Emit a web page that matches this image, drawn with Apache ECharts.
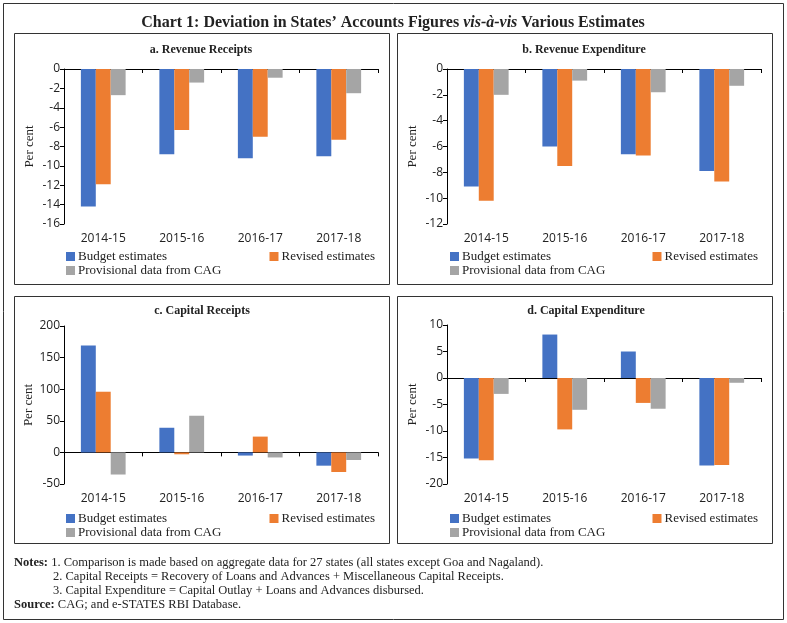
<!DOCTYPE html>
<html>
<head>
<meta charset="utf-8">
<script src="https://cdn.jsdelivr.net/npm/echarts@6/dist/echarts.min.js"></script>
<style>
html,body{margin:0;padding:0;background:#fff;}
#c{width:787px;height:623px;}
</style>
</head>
<body>
<div id="c"></div>
<script>
var categories = ['2014-15', '2015-16', '2016-17', '2017-18'];
var seriesNames = ['Budget estimates', 'Revised estimates', 'Provisional data from CAG'];
var colors = ['#4472C4', '#ED7D31', '#A5A5A5'];

var panelTitles = ['a. Revenue Receipts', 'b. Revenue Expenditure', 'c. Capital Receipts', 'd. Capital Expenditure'];

// a. Revenue Receipts
var revReceiptsBE = [-14.2, -8.8, -9.2, -9.0];
var revReceiptsRE = [-11.9, -6.3, -7.0, -7.3];
var revReceiptsCAG = [-2.7, -1.4, -0.9, -2.5];
// b. Revenue Expenditure
var revExpBE = [-9.1, -6.0, -6.6, -7.9];
var revExpRE = [-10.2, -7.5, -6.7, -8.7];
var revExpCAG = [-2.0, -0.9, -1.8, -1.3];
// c. Capital Receipts
var capReceiptsBE = [169, 39, -5, -21];
var capReceiptsRE = [96, -3, 25, -31];
var capReceiptsCAG = [-35, 58, -8, -12];
// d. Capital Expenditure
var capExpBE = [-15.2, 8.2, 5.0, -16.5];
var capExpRE = [-15.5, -9.7, -4.7, -16.4];
var capExpCAG = [-3.0, -6.0, -5.8, -0.9];

// y-axis ranges
var yMin = [-16, -12, -50, -20];
var yMax = [0, 0, 200, 10];
var yInterval = [2, 2, 50, 5];

var notesLines = [
  '1. Comparison is made based on aggregate data for 27 states (all states except Goa and Nagaland).',
  '2. Capital Receipts = Recovery of Loans and Advances + Miscellaneous Capital Receipts.',
  '3. Capital Expenditure = Capital Outlay + Loans and Advances disbursed.'
];
var sourceText = 'CAG; and e-STATES RBI Database.';

var panelData = [
  [revReceiptsBE, revReceiptsRE, revReceiptsCAG],
  [revExpBE, revExpRE, revExpCAG],
  [capReceiptsBE, capReceiptsRE, capReceiptsCAG],
  [capExpBE, capExpRE, capExpCAG]
];

var SERIF = '"Liberation Serif", "DejaVu Serif", serif';
var SANS = '"Open Sans", "Liberation Sans", sans-serif';

var grids = [
  {left: 64, right: 409, top: 69, height: 155},
  {left: 447, right: 26, top: 69, height: 155},
  {left: 64, right: 409, top: 326, height: 158},
  {left: 447, right: 26, top: 325, height: 159}
];
var panelBoxes = [
  {x: 14, y: 33, w: 375, h: 251},
  {x: 397, y: 33, w: 375, h: 251},
  {x: 14, y: 296, w: 375, h: 247},
  {x: 397, y: 296, w: 375, h: 247}
];
var titleCenters = [[201, 51], [584, 51], [202, 312], [586, 312]];
var legendRows = [[256, 270], [256, 270], [518, 532], [518, 532]];
var legendLeft = [66, 450, 66, 450];
var legendRight = [412, 29, 412, 29];

var xAxes = [], yAxes = [], series = [], titles = [], legends = [], graphics = [];

for (var i = 0; i < 4; i++) {
  xAxes.push({
    gridIndex: i, type: 'category', data: categories,
    axisLine: {onZero: true, lineStyle: {color: '#000', width: 1}},
    axisTick: {show: true, length: 4, lineStyle: {color: '#000'}},
    axisLabel: {show: false}
  });
  xAxes.push({
    gridIndex: i, type: 'category', data: categories, position: 'bottom',
    axisLine: {show: false, onZero: false},
    axisTick: {show: false},
    axisLabel: {show: true, fontFamily: SANS, fontSize: 12, color: '#222', margin: 9}
  });
  yAxes.push({
    gridIndex: i, type: 'value', min: yMin[i], max: yMax[i], interval: yInterval[i],
    axisLine: {show: true, lineStyle: {color: '#000', width: 1}},
    axisTick: {show: true, length: 4, lineStyle: {color: '#000'}},
    splitLine: {show: false},
    axisLabel: {fontFamily: SANS, fontSize: 12, color: '#222', margin: 4},
    name: 'Per cent', nameLocation: 'middle', nameGap: 28,
    nameTextStyle: {fontFamily: SERIF, fontSize: 13, color: '#222'}
  });
  for (var s = 0; s < 3; s++) {
    series.push({
      type: 'bar', name: seriesNames[s], xAxisIndex: i * 2, yAxisIndex: i,
      data: panelData[i][s], barGap: '0%', barCategoryGap: '43%',
      itemStyle: {color: colors[s]}
    });
  }
  titles.push({
    text: panelTitles[i], left: titleCenters[i][0], top: titleCenters[i][1] - 7, textAlign: 'center',
    padding: 0,
    textStyle: {fontFamily: SERIF, fontSize: 12, fontWeight: 'bold', color: '#222'}
  });
  var lgBase = {orient: 'horizontal', icon: 'rect', itemWidth: 9, itemHeight: 9, itemGap: 3, padding: 0,
    selectedMode: false,
    textStyle: {fontFamily: SERIF, fontSize: 13, color: '#222', padding: [0, 0, 0, -2]}};
  legends.push(Object.assign({}, lgBase, {data: [seriesNames[0]], left: legendLeft[i], top: legendRows[i][0] - 6}));
  legends.push(Object.assign({}, lgBase, {data: [seriesNames[1]], right: legendRight[i], top: legendRows[i][0] - 6}));
  legends.push(Object.assign({}, lgBase, {data: [seriesNames[2]], left: legendLeft[i], top: legendRows[i][1] - 6}));
  graphics.push({
    type: 'rect', shape: {x: panelBoxes[i].x + 0.5, y: panelBoxes[i].y + 0.5, width: panelBoxes[i].w, height: panelBoxes[i].h},
    style: {fill: 'none', stroke: '#333', lineWidth: 1}, silent: true, z: -1
  });
}

graphics.push({
  type: 'rect', shape: {x: 3.5, y: 3.5, width: 780, height: 616},
  style: {fill: 'none', stroke: '#333', lineWidth: 1}, silent: true, z: -1
});
graphics.push({
  type: 'text', x: 393, y: 23,
  style: {
    text: '{b|Chart 1: Deviation in States\u2019 Accounts Figures }{i|vis-\u00e0-vis}{b| Various Estimates}',
    align: 'center', verticalAlign: 'middle',
    rich: {
      b: {fontFamily: SERIF, fontSize: 16, fontWeight: 'bold', fill: '#222'},
      i: {fontFamily: SERIF, fontSize: 16, fontWeight: 'bold', fontStyle: 'italic', fill: '#222'}
    }
  }
});
var NOTE_FS = 12.5;
var noteY = [563, 577, 591];
graphics.push({
  type: 'text', x: 14, y: noteY[0],
  style: {text: '{b|Notes:} ' + notesLines[0], verticalAlign: 'middle',
    rich: {b: {fontFamily: SERIF, fontSize: NOTE_FS, fontWeight: 'bold', fill: '#222'}},
    fontFamily: SERIF, fontSize: NOTE_FS, fill: '#222'}
});
graphics.push({type: 'text', x: 53, y: noteY[1], style: {text: notesLines[1], verticalAlign: 'middle', fontFamily: SERIF, fontSize: NOTE_FS, fill: '#222'}});
graphics.push({type: 'text', x: 53, y: noteY[2], style: {text: notesLines[2], verticalAlign: 'middle', fontFamily: SERIF, fontSize: NOTE_FS, fill: '#222'}});
graphics.push({
  type: 'text', x: 14, y: 605,
  style: {text: '{b|Source:} ' + sourceText, verticalAlign: 'middle',
    rich: {b: {fontFamily: SERIF, fontSize: NOTE_FS, fontWeight: 'bold', fill: '#222'}},
    fontFamily: SERIF, fontSize: NOTE_FS, fill: '#222'}
});

var chart = echarts.init(document.getElementById('c'), null, {renderer: 'canvas'});
chart.setOption({
  animation: false,
  backgroundColor: '#fff',
  grid: grids,
  xAxis: xAxes,
  yAxis: yAxes,
  series: series,
  title: titles,
  legend: legends,
  graphic: graphics
});
</script>
</body>
</html>
